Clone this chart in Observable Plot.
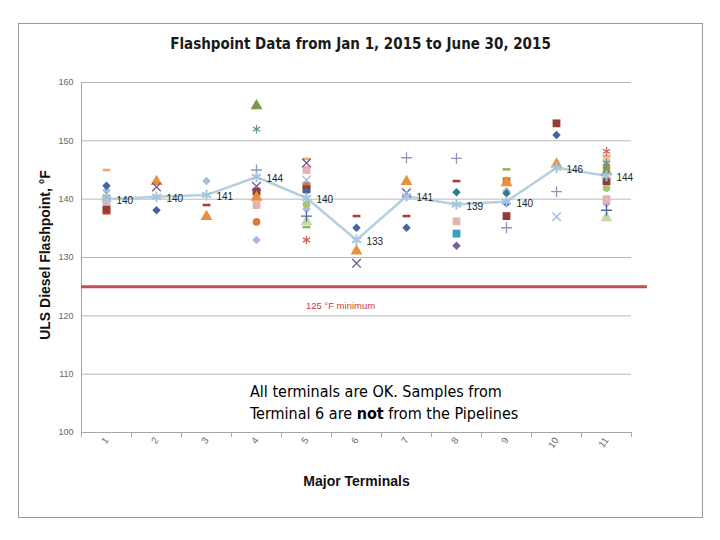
<!DOCTYPE html>
<html><head><meta charset="utf-8">
<script src="https://cdn.jsdelivr.net/npm/d3@7"></script>
<script src="https://cdn.jsdelivr.net/npm/@observablehq/plot@0.6"></script>
<style>
body{margin:0;background:#fff;width:720px;height:540px;position:relative;overflow:hidden;font-family:"Liberation Sans Narrow","DejaVu Sans Condensed",sans-serif;}
#frame{position:absolute;left:18px;top:23px;width:685px;height:495px;border:1px solid #9a9a9a;box-sizing:border-box;}
#title{position:absolute;left:0;top:0;width:100%;height:40px;line-height:40px;text-align:center;font-size:15px;font-weight:bold;color:#1a1a1a;}
#chart{position:absolute;left:0;top:40px;}
#note{position:absolute;left:231px;top:357px;font-size:16px;line-height:22px;color:#000;}
#ytitle{position:absolute;left:26px;top:231px;width:0;height:0;}
#ytitle span{position:absolute;left:0;top:0;transform:translate(-50%,-50%) rotate(-90deg);white-space:nowrap;font-family:"Liberation Sans","DejaVu Sans",sans-serif;font-weight:bold;font-size:14px;color:#111;}
</style></head>
<body>
<div id="frame">
  <div id="title">Flashpoint Data from Jan 1, 2015 to June 30, 2015</div>
  <div id="chart"></div>
  <div id="ytitle"><span>ULS Diesel Flashpoint, °F</span></div>
  <div id="note">All terminals are OK. Samples from<br>Terminal 6 are <b>not</b> from the Pipelines</div>
</div>
<script>
const terminals = [1,2,3,4,5,6,7,8,9,10,11];
const yTicks = [100,110,120,130,140,150,160];
const minimumF = 125;
const minimumLabel = "125 °F minimum";

const average      = [140, 140.4, 140.7, 143.8, 140.2, 133, 140.5, 139.1, 139.6, 145.4, 144];
const averageLabel = ["140","140","141","144","140","133","141","139","140","146","144"];

const navyDiamond    = [142.3,138.1,null,null,141.4,135.1,135.1,null,139.3,151,null];
const darkRedSquare  = [138.2,null,null,141.3,141.7,null,null,null,137.1,153,143.1];
const oliveTriangle  = [null,null,null,156,null,null,null,null,null,null,144.7];
const purpleCross    = [null,142.1,null,142.2,146.2,129,141.1,null,null,null,null];
const tealStar       = [140.4,null,null,152,null,null,null,null,null,null,146.2];
const orangeCircle   = [null,null,null,136.1,null,null,null,null,null,null,145.4];
const grayPlus       = [null,null,null,145,null,null,147.1,147,135.1,141.3,null];
const darkRedDash    = [null,null,139,null,null,137.1,137.1,143.1,null,null,null];
const orangeTriangle = [null,143,137,140.3,null,131.1,143,null,142.8,146,null];
const lavenderDiamond= [141.5,null,143.1,133,138.3,null,null,null,141.4,null,139.2];
const pinkSquare     = [139.4,null,null,139,145,null,null,136.2,null,null,140];
const orangeSquare   = [138,null,null,null,142.3,null,null,null,143.1,null,null];
const tealSquare     = [null,null,null,null,null,null,null,134.1,null,null,null];
const purpleDiamond  = [null,null,null,null,null,null,null,132,null,null,null];
const tealDiamond    = [null,null,null,null,null,null,null,141.2,141,null,null];
const peachDash      = [145,null,null,null,146.9,null,null,null,null,null,147.4];
const paleTriangle   = [null,null,null,null,136.1,null,null,null,null,null,136.8];
const redAsterisk    = [null,null,null,null,133,null,null,null,null,null,148.2];
const greenCircle    = [null,null,null,null,139.1,null,null,null,null,null,141.9];
const navyPlus       = [null,null,null,null,137.1,null,null,null,null,null,138.1];
const greenDash      = [null,null,null,null,135.2,null,null,null,145.1,null,null];
const lightCross     = [null,null,null,null,143.3,null,null,null,null,137,null];
const pinkCircle     = [null,null,null,null,null,null,null,null,null,null,146.7];

const dash = {draw(ctx, size){ const s = Math.sqrt(size); const w = s*0.55, h = s*0.18; ctx.moveTo(-w,-h); ctx.lineTo(w,-h); ctx.lineTo(w,h); ctx.lineTo(-w,h); ctx.closePath(); }};

// style table: [values, symbol, color, filled, r]
const seriesStyles = [
  [pinkCircle, "circle", "#efbcb9", true, 3.8],
  [lavenderDiamond, "diamond2", "#aab8de", true, 3.8],
  [pinkSquare, "square", "#e4b3b1", true, 4.4],
  [orangeSquare, "square", "#d9772e", true, 4.4],
  [tealSquare, "square", "#35a1b7", true, 4.4],
  [greenCircle, "circle", "#a9c672", true, 3.8],
  [orangeCircle, "circle", "#d97a30", true, 3.8],
  [darkRedSquare, "square", "#983a38", true, 4.4],
  [navyDiamond, "diamond2", "#3f66a0", true, 3.8],
  [purpleDiamond, "diamond2", "#7c5d9d", true, 3.8],
  [tealDiamond, "diamond2", "#2f7e89", true, 3.8],
  [oliveTriangle, "triangle", "#7d9845", true, 4.4],
  [orangeTriangle, "triangle", "#e8913a", true, 4.4],
  [paleTriangle, "triangle", "#c6d9a2", true, 4.4],
  [darkRedDash, dash, "#a83d3b", true, 4],
  [peachDash, dash, "#f2a66a", true, 4],
  [greenDash, dash, "#8db65a", true, 4],
  [purpleCross, "times", "#6b558d", false, 4],
  [lightCross, "times", "#9bb6de", false, 4],
  [tealStar, "asterisk", "#5f9a88", false, 4],
  [redAsterisk, "asterisk", "#d1625e", false, 4],
  [grayPlus, "plus", "#8f97b8", false, 3.6],
  [navyPlus, "plus", "#4d6aa5", false, 3.6]
];

const boundaries = d3.range(0.5, 12, 1);

const dotMarks = seriesStyles.map(([vals, symbol, color, filled, r]) =>
  Plot.dot(terminals.filter((t,i) => vals[i] != null), {
    x: d => d, y: d => vals[d-1], symbol, r,
    fill: filled ? color : "none", stroke: filled ? "none" : color, strokeWidth: 1.3
  })
);

const chart = Plot.plot({
  width: 683, height: 453,
  marginLeft: 62, marginRight: 71, marginTop: 18, marginBottom: 85,
  style: {fontFamily: '"Liberation Sans", "DejaVu Sans", sans-serif', color: "#666", background: "white"},
  x: {type: "linear", domain: [0.5, 11.5]},
  y: {domain: [100, 160]},
  marks: [
    Plot.gridY(yTicks.filter(t => t > 100), {stroke: "#b8b8b8", strokeOpacity: 1}),
    Plot.ruleX([0.5], {stroke: "#a6a6a6"}),
    Plot.ruleY([100], {stroke: "#a6a6a6"}),
    Plot.axisY({ticks: yTicks, tickSize: 0, tickPadding: 8, fontSize: 9, label: null}),
    Plot.axisX({ticks: boundaries, tickSize: 5, tickFormat: () => "", label: null, stroke: "#a6a6a6"}),
    Plot.axisX({ticks: terminals, tickSize: 0, tickPadding: 6, tickRotate: -55, fontSize: 9.5, label: null}),
    Plot.ruleY([minimumF], {stroke: "#c0504d", strokeWidth: 3, insetRight: -16}),
    Plot.text([minimumF], {y: d => d, frameAnchor: "middle", dx: -16, dy: 19, text: () => minimumLabel, fill: "#d04040", fontSize: 9.5}),
    Plot.line(terminals, {x: d => d, y: d => average[d-1], stroke: "#b5cfdf", strokeWidth: 2.5}),
    ...dotMarks,
    Plot.dot(terminals, {x: d => d, y: d => average[d-1], symbol: "asterisk", r: 5, stroke: "#a9c4de", strokeWidth: 2}),
    Plot.text(terminals, {x: d => d, y: d => average[d-1], text: d => averageLabel[d-1], dx: 10, dy: 2, textAnchor: "start", fill: "#222", fontSize: 10}),
    Plot.text(["Major Terminals"], {frameAnchor: "bottom", dy: 53, fontWeight: "bold", fontSize: 14, fill: "#111"})
  ]
});
document.getElementById("chart").appendChild(chart);
</script>
</body></html>
